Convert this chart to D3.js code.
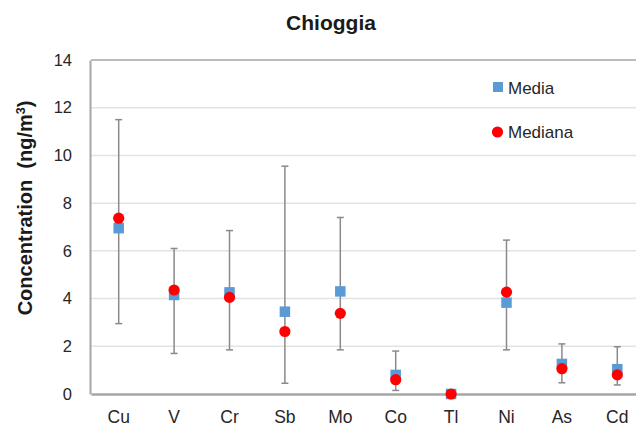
<!DOCTYPE html>
<html>
<head>
<meta charset="utf-8">
<script src="https://cdn.jsdelivr.net/npm/d3@7"></script>
<style>
  html, body { margin: 0; padding: 0; background: #fff; }
  svg { display: block; font-family: "Liberation Sans", Arial, sans-serif; }
</style>
</head>
<body>
<svg id="chart" width="636" height="427"></svg>
<script>
// Metal concentrations at Chioggia (ng/m³): mean, median and min–max range
const elements = ["Cu", "V", "Cr", "Sb", "Mo", "Co", "Tl", "Ni", "As", "Cd"];
const media    = [6.95, 4.15, 4.26, 3.45, 4.3, 0.8, 0.0, 3.83, 1.26, 1.04];
const mediana  = [7.37, 4.36, 4.05, 2.62, 3.38, 0.6, 0.0, 4.27, 1.06, 0.8];
const rangeLow  = [2.95, 1.7, 1.85, 0.45, 1.85, 0.15, 0.0, 1.85, 0.47, 0.38];
const rangeHigh = [11.5, 6.1, 6.85, 9.55, 7.4, 1.8, 0.0, 6.45, 2.1, 1.98];
const yTicks = [0, 2, 4, 6, 8, 10, 12, 14];

const svg = d3.select("#chart");
const plot = { left: 91, right: 645, top: 60, bottom: 394 };

const x = d3.scaleBand().domain(elements).range([plot.left, plot.right]);
const y = d3.scaleLinear().domain([0, 14]).range([plot.bottom, plot.top]);
const cx = d => x(d) + x.bandwidth() / 2;

// light horizontal gridlines
svg.append("g")
  .selectAll("line")
  .data(yTicks.filter(t => t > 0 && t < 14))
  .join("line")
  .attr("x1", plot.left).attr("x2", plot.right)
  .attr("y1", d => y(d)).attr("y2", d => y(d))
  .attr("stroke", "#e3e3e3").attr("stroke-width", 1.5);

// frame: top border, left and bottom axes
svg.append("line")
  .attr("x1", plot.left).attr("x2", plot.right)
  .attr("y1", y(14)).attr("y2", y(14))
  .attr("stroke", "#a6a6a6").attr("stroke-width", 1.5);

const yAxis = svg.append("g")
  .attr("transform", `translate(${plot.left - 1},0)`)
  .call(d3.axisLeft(y).tickValues(yTicks).tickSize(0).tickPadding(18).tickFormat(d3.format("d")));
yAxis.select(".domain").attr("stroke", "#a6a6a6").attr("stroke-width", 2);
yAxis.selectAll("text")
  .attr("font-size", 16.5).attr("fill", "#262626")
  .attr("font-family", "'Liberation Sans', Arial, sans-serif");

const xAxis = svg.append("g")
  .attr("transform", `translate(0,${plot.bottom})`)
  .call(d3.axisBottom(x).tickSize(0).tickPadding(17));
xAxis.select(".domain").attr("stroke", "#a6a6a6").attr("stroke-width", 2.5);
xAxis.selectAll("text")
  .attr("font-size", 17.5).attr("fill", "#262626")
  .attr("font-family", "'Liberation Sans', Arial, sans-serif");

// min–max whiskers
const whiskers = svg.append("g").attr("stroke", "#8a8a8a").attr("stroke-width", 1.5);
elements.forEach((e, i) => {
  if (rangeHigh[i] === rangeLow[i]) return;
  const xc = cx(e);
  whiskers.append("line").attr("x1", xc).attr("x2", xc)
    .attr("y1", y(rangeLow[i])).attr("y2", y(rangeHigh[i]));
  [rangeLow[i], rangeHigh[i]].forEach(v => {
    whiskers.append("line").attr("x1", xc - 3.5).attr("x2", xc + 3.5)
      .attr("y1", y(v)).attr("y2", y(v));
  });
});

// mean markers
const sq = 10.5;
svg.append("g").selectAll("rect")
  .data(elements)
  .join("rect")
  .attr("x", d => cx(d) - sq / 2)
  .attr("y", (d, i) => y(media[i]) - sq / 2)
  .attr("width", sq).attr("height", sq)
  .attr("fill", "#5b9bd5");

// median markers
svg.append("g").selectAll("circle")
  .data(elements)
  .join("circle")
  .attr("cx", d => cx(d))
  .attr("cy", (d, i) => y(mediana[i]))
  .attr("r", 5.6)
  .attr("fill", "#ff0000");

// legend
const legend = svg.append("g");
legend.append("rect").attr("x", 493).attr("y", 82).attr("width", 10).attr("height", 10).attr("fill", "#5b9bd5");
legend.append("text").attr("x", 508).attr("y", 93.5).text("Media")
  .attr("font-size", 17).attr("fill", "#262626");
legend.append("circle").attr("cx", 497.5).attr("cy", 132).attr("r", 5.6).attr("fill", "#ff0000");
legend.append("text").attr("x", 508).attr("y", 138).text("Mediana")
  .attr("font-size", 17).attr("fill", "#262626");

// title
svg.append("text")
  .attr("x", 331).attr("y", 29.5)
  .attr("text-anchor", "middle")
  .attr("font-size", 21).attr("font-weight", "bold").attr("fill", "#1a1a1a")
  .text("Chioggia");

// y-axis title
svg.append("text")
  .attr("transform", "translate(32,208) rotate(-90)")
  .attr("text-anchor", "middle")
  .attr("font-size", 20).attr("font-weight", "bold").attr("fill", "#1a1a1a")
  .attr("xml:space", "preserve")
  .text("Concentration  (ng/m")
  .append("tspan").attr("font-size", 12.5).attr("dy", -7.5).text("3")
  .select(function () { return this.parentNode; })
  .append("tspan").attr("dy", 7.5).text(")");
</script>
</body>
</html>
